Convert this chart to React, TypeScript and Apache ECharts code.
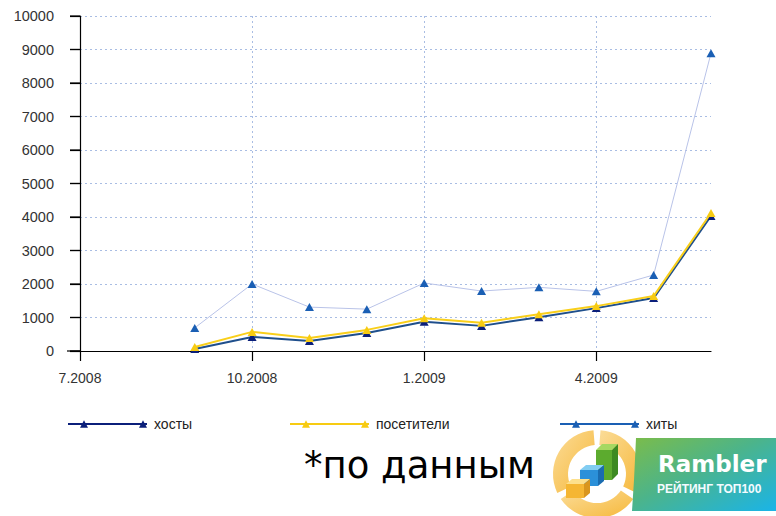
import React, { useEffect, useRef } from "react";
import * as echarts from "echarts";

const months = [
  "7.2008", "8.2008", "9.2008", "10.2008", "11.2008", "12.2008",
  "1.2009", "2.2009", "3.2009", "4.2009", "5.2009", "6.2009",
];
const hosts = [null, null, 60, 420, 300, 540, 870, 750, 1010, 1280, 1580, 4030];
const visitors = [null, null, 120, 570, 390, 630, 980, 840, 1100, 1340, 1640, 4120];
const hits = [null, null, 690, 2000, 1310, 1250, 2030, 1790, 1900, 1780, 2270, 8890];
const yTicks = { min: 0, max: 10000, interval: 1000 };

const legendIcon =
  "path://M0 3.2 L79 3.2 L79 5.2 L0 5.2 Z M12 8 L16 0.5 L20 8 Z M71 8 L75 0.5 L79 8 Z";

export default function App() {
  const ref = useRef<HTMLDivElement>(null);
  useEffect(() => {
    document.body.style.margin = "0";
    const chart = echarts.init(ref.current!, null, { renderer: "svg" });
    const legendBase = {
      icon: legendIcon,
      itemWidth: 79,
      itemHeight: 8,
      itemGap: 0,
      top: 412,
      textStyle: {
        fontFamily: "Liberation Sans",
        fontSize: 14,
        color: "#222",
        padding: [12, 0, 0, 2],
      },
    };
    chart.setOption({
      animation: false,
      backgroundColor: "#fff",
      grid: { left: 80, top: 16, width: 631, height: 335 },
      legend: [
        { ...legendBase, left: 63, data: ["хосты"] },
        { ...legendBase, left: 285, data: ["посетители"] },
        { ...legendBase, left: 555, data: ["хиты"] },
      ],
      xAxis: {
        type: "category",
        data: months,
        boundaryGap: false,
        axisLine: { lineStyle: { color: "#000", width: 1.2 } },
        axisTick: { interval: 2, length: 10, lineStyle: { color: "#000", width: 1.2 } },
        axisLabel: {
          interval: 2,
          margin: 20,
          fontFamily: "Liberation Sans",
          fontSize: 14,
          color: "#333",
        },
        splitLine: {
          show: true,
          interval: 2,
          lineStyle: { color: "#a9bde3", type: [2, 3], width: 1 },
        },
      },
      yAxis: {
        type: "value",
        min: yTicks.min,
        max: yTicks.max,
        interval: yTicks.interval,
        axisLine: { show: true, lineStyle: { color: "#000", width: 1.2 } },
        axisTick: { show: true, length: 10, lineStyle: { color: "#000", width: 1.2 } },
        axisLabel: {
          margin: 26,
          fontFamily: "Liberation Sans",
          fontSize: 14.5,
          color: "#333",
          formatter: (v: number) => String(v),
        },
        splitLine: {
          show: true,
          lineStyle: { color: "#a9bde3", type: [2, 3], width: 1 },
        },
      },
      series: [
        {
          name: "хиты",
          type: "line",
          data: hits,
          symbol: "triangle",
          symbolSize: [9, 8],
          showSymbol: true,
          itemStyle: { color: "#1a5fb4" },
          lineStyle: { color: "#b9c3e8", width: 1 },
          z: 2,
        },
        {
          name: "хосты",
          type: "line",
          data: hosts,
          symbol: "triangle",
          symbolSize: [9, 8],
          itemStyle: { color: "#0b1f7a" },
          lineStyle: { color: "#1f4f8c", width: 2 },
          z: 3,
        },
        {
          name: "посетители",
          type: "line",
          data: visitors,
          symbol: "triangle",
          symbolSize: [9, 8],
          itemStyle: { color: "#f7cb12" },
          lineStyle: { color: "#f9cf1a", width: 2 },
          z: 4,
        },
      ],
    });

    // y-axis tick marks placed through the axis scale
    const tickLines: any[] = [];
    for (let v = yTicks.min; v <= yTicks.max; v += yTicks.interval) {
      const p = chart.convertToPixel({ gridIndex: 0 }, [0, v]) as number[];
      tickLines.push({
        type: "line",
        shape: { x1: p[0] - 10, y1: p[1], x2: p[0], y2: p[1] },
        style: { stroke: "#000", lineWidth: 1.2 },
        z: 10,
      });
    }
    const origin = chart.convertToPixel({ gridIndex: 0 }, [0, 0]) as number[];

    chart.setOption({
      graphic: [
        ...tickLines,
        {
          type: "line",
          shape: { x1: origin[0] - 13, y1: origin[1], x2: origin[0], y2: origin[1] },
          style: { stroke: "#000", lineWidth: 1.2 },
          z: 10,
        },
        {
          type: "text",
          left: 304,
          top: 447,
          style: {
            text: "*по данным",
            font: "37px 'DejaVu Sans'",
            fill: "#000",
          },
        },
        // ring
        ...[
          [Math.PI * 0.5 + 0.08, Math.PI * (7 / 6) - 0.08],
          [Math.PI * (7 / 6) + 0.08, Math.PI * (11 / 6) - 0.08],
          [Math.PI * (11 / 6) + 0.08, Math.PI * 2.5 - 0.08],
        ].map(([a0, a1]) => ({
          type: "sector",
          shape: { cx: 597, cy: 474, r: 44, r0: 29, startAngle: -a1, endAngle: -a0 },
          style: {
            fill: new echarts.graphic.LinearGradient(0, 0, 1, 1, [
              { offset: 0, color: "#fbdc98" },
              { offset: 1, color: "#f6b83a" },
            ]),
          },
          z: 1,
        })),
        {
          type: "polygon",
          shape: { points: [[636, 438], [776, 438], [776, 511], [632, 511], [634, 480]] },
          style: {
            fill: new echarts.graphic.LinearGradient(0, 0, 1, 1, [
              { offset: 0, color: "#7bbc4a" },
              { offset: 0.45, color: "#4cb48a" },
              { offset: 1, color: "#1ab4e8" },
            ]),
          },
          z: 2,
        },
        {
          type: "text",
          left: 658,
          top: 452,
          style: { text: "Rambler", font: "bold 23px 'DejaVu Sans'", fill: "#fff" },
          z: 3,
        },
        {
          type: "text",
          left: 657,
          top: 483,
          style: { text: "РЕЙТИНГ ТОП100", font: "bold 12px 'Liberation Sans'", fill: "#f4fbff" },
          z: 3,
        },
        // green box
        { type: "polygon", shape: { points: [[596, 450], [602, 444], [618, 444], [612, 450]] }, style: { fill: "#a6d862" }, z: 3 },
        { type: "polygon", shape: { points: [[612, 450], [618, 444], [618, 474], [612, 480]] }, style: { fill: "#3d8a22" }, z: 3 },
        { type: "rect", shape: { x: 596, y: 450, width: 16, height: 30 }, style: { fill: "#5cab2e" }, z: 3 },
        // blue box
        { type: "polygon", shape: { points: [[580, 470], [586, 465], [604, 465], [598, 470]] }, style: { fill: "#82cdf2" }, z: 4 },
        { type: "polygon", shape: { points: [[598, 470], [604, 465], [604, 481], [598, 486]] }, style: { fill: "#1a6cb0" }, z: 4 },
        { type: "rect", shape: { x: 580, y: 470, width: 18, height: 16 }, style: { fill: "#2b90d9" }, z: 4 },
        // yellow box
        { type: "polygon", shape: { points: [[566, 484], [572, 479], [590, 479], [584, 484]] }, style: { fill: "#fde08c" }, z: 5 },
        { type: "polygon", shape: { points: [[584, 484], [590, 479], [590, 493], [584, 498]] }, style: { fill: "#d9961e" }, z: 5 },
        { type: "rect", shape: { x: 566, y: 484, width: 18, height: 14 }, style: { fill: "#f5b633" }, z: 5 },
      ],
    });
    return () => chart.dispose();
  }, []);
  return <div ref={ref} style={{ width: 776, height: 516 }} />;
}
